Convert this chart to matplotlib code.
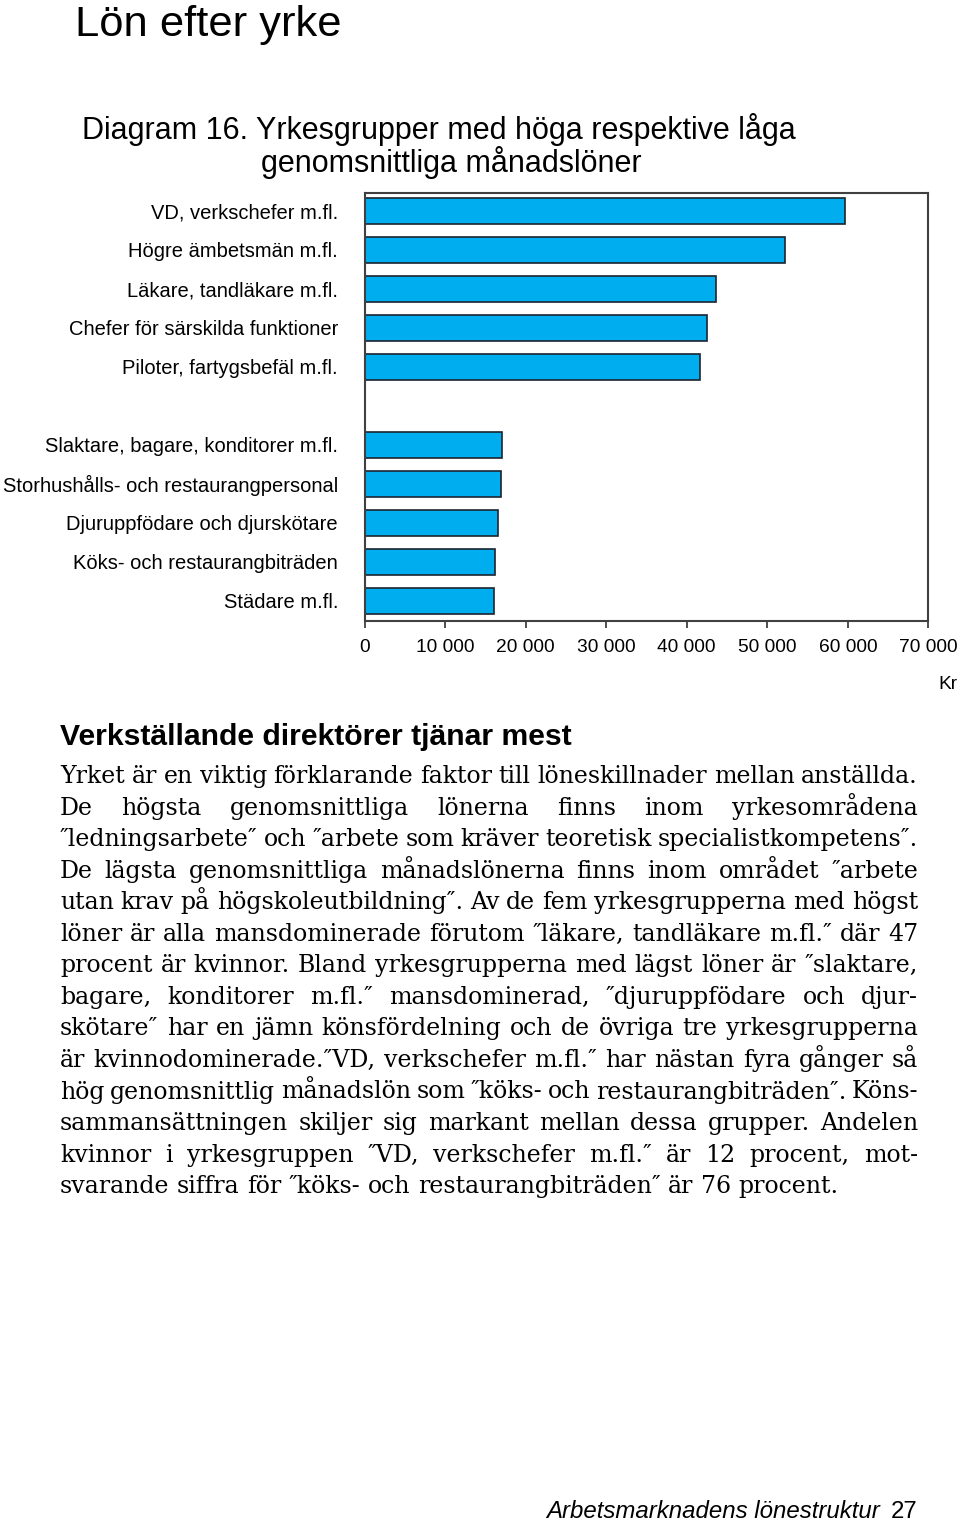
import matplotlib
matplotlib.use("Agg")
import matplotlib.pyplot as plt
from matplotlib import font_manager

# Data (monthly salary, kr)
occupations = [
    "VD, verkschefer m.fl.",
    "Högre ämbetsmän m.fl.",
    "Läkare, tandläkare m.fl.",
    "Chefer för särskilda funktioner",
    "Piloter, fartygsbefäl m.fl.",
    "Slaktare, bagare, konditorer m.fl.",
    "Storhushålls- och restaurangpersonal",
    "Djuruppfödare och djurskötare",
    "Köks- och restaurangbiträden",
    "Städare m.fl.",
]
salaries = [59700, 52200, 43600, 42500, 41700, 17100, 16900, 16600, 16250, 16100]
slots = [0, 1, 2, 3, 4, 6, 7, 8, 9, 10]
xticks = [0, 10000, 20000, 30000, 40000, 50000, 60000, 70000]
xticklabels = ["0", "10 000", "20 000", "30 000", "40 000", "50 000", "60 000", "70 000"]

page_title = "Lön efter yrke"
chart_title = ["Diagram 16. Yrkesgrupper med höga respektive låga",
               "genomsnittliga månadslöner"]
heading = "Verkställande direktörer tjänar mest"
body_lines = [
    "Yrket är en viktig förklarande faktor till löneskillnader mellan anställda.",
    "De högsta genomsnittliga lönerna finns inom yrkesområdena",
    "″ledningsarbete″ och ″arbete som kräver teoretisk specialistkompetens″.",
    "De lägsta genomsnittliga  månadslönerna finns inom området ″arbete",
    "utan krav på högskoleutbildning″. Av de fem yrkesgrupperna med högst",
    "löner är alla mansdominerade förutom ″läkare, tandläkare m.fl.″ där  47",
    "procent är kvinnor. Bland yrkesgrupperna med lägst löner är ″slaktare,",
    "bagare, konditorer m.fl.″ mansdominerad, ″djuruppfödare och djur-",
    "skötare″ har en jämn könsfördelning och de övriga tre yrkesgrupperna",
    "är kvinnodominerade.″VD, verkschefer m.fl.″ har nästan fyra gånger så",
    "hög genomsnittlig månadslön som ″köks- och restaurangbiträden″. Köns-",
    "sammansättningen skiljer sig markant mellan dessa grupper. Andelen",
    "kvinnor i yrkesgruppen ″VD, verkschefer m.fl.″ är 12 procent, mot-",
    "svarande siffra för ″köks- och restaurangbiträden″ är 76 procent.",
]
footer = "Arbetsmarknadens lönestruktur"
page_no = "27"

sans = ["Liberation Sans", "DejaVu Sans"]
serif = ["DejaVu Serif", "Liberation Serif"]

W, H = 960, 1522
fig = plt.figure(figsize=(W / 100, H / 100), dpi=100)


def fx(px):
    return px / W


def fy(py):
    return 1 - py / H


# page title and chart caption
fig.text(fx(75), fy(36), page_title, family=sans, fontsize=31.3, va="baseline", color="black")
fig.text(fx(82), fy(139), chart_title[0], family=sans, fontsize=22, va="baseline")
fig.text(fx(261), fy(172), chart_title[1], family=sans, fontsize=22, va="baseline")

# bar chart
ax = fig.add_axes([fx(364.5), fy(621), (928.4 - 364.5) / W, (621 - 193) / H])
ax.barh(slots, salaries, height=0.66, color="#00AEEF", edgecolor="#1b2430", linewidth=1.2)
ax.set_xlim(0, 70000)
ax.set_ylim(10.52, -0.46)
ax.set_xticks(xticks)
ax.set_xticklabels(xticklabels, family=sans, fontsize=13.8)
ax.set_yticks(slots)
ax.set_yticklabels(occupations, family=sans, fontsize=14.5)
ax.tick_params(axis="y", length=0, pad=19)
ax.tick_params(axis="x", length=5, width=1.3, color="#404040", pad=8, direction="out")
for s in ax.spines.values():
    s.set_color("#404040")
    s.set_linewidth(1.5)
fig.text(fx(958), fy(689), "Kr", family=sans, fontsize=13.8, ha="right", va="baseline")

# text section
fig.text(fx(60), fy(745), heading, family=sans, fontsize=21.7,
         fontweight="bold", va="baseline")

renderer = fig.canvas.get_renderer()
left, right = 60, 918

# pick body font size so the unjustified last line is as wide as in the page
probe = fig.text(0, 0, body_lines[-1], family=serif, fontsize=10)
body_size = 10 * 783 / probe.get_window_extent(renderer).width
probe.remove()

base = 783
step = 31.55
for i, line in enumerate(body_lines):
    y = fy(base + i * step)
    words = line.split()
    texts = [fig.text(0, y, w, family=serif, fontsize=body_size, va="baseline") for w in words]
    widths = [t.get_window_extent(renderer).width for t in texts]
    if i == len(body_lines) - 1:
        a = fig.text(0, 0, "a a", family=serif, fontsize=body_size)
        b = fig.text(0, 0, "aa", family=serif, fontsize=body_size)
        gap = a.get_window_extent(renderer).width - b.get_window_extent(renderer).width
        a.remove()
        b.remove()
    else:
        gap = (right - left - sum(widths)) / (len(words) - 1)
    x = left
    for t, w in zip(texts, widths):
        t.set_x(fx(x))
        x += w + gap

# footer
fig.text(fx(918), fy(1518), page_no, family=sans, fontsize=17.3, ha="right", va="baseline")
fig.text(fx(880), fy(1518), footer, family=sans, fontsize=17.3, style="italic",
         ha="right", va="baseline")

fig.savefig("out.png", dpi=100, facecolor="white")
